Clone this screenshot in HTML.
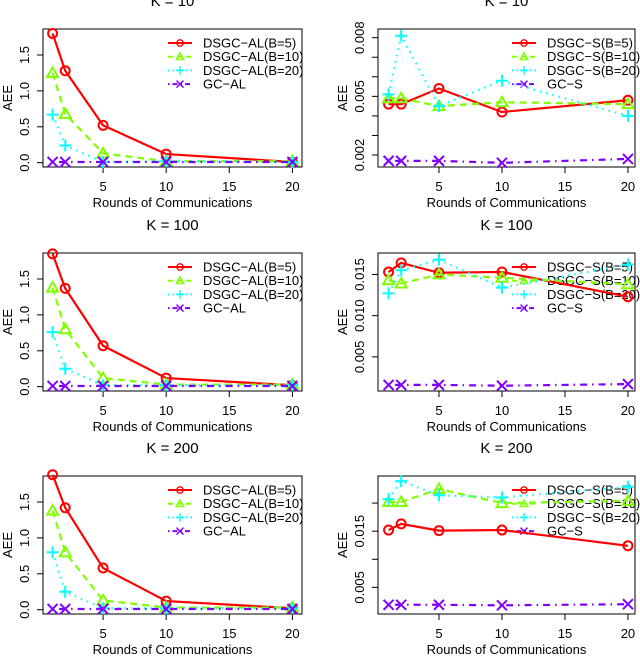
<!DOCTYPE html>
<html><head><meta charset="utf-8"><style>
html,body{margin:0;padding:0;background:#fff;}
svg{display:block;font-family:"Liberation Sans",sans-serif;}
</style></head><body>
<svg id="chart" width="640" height="656" viewBox="0 0 640 656" xmlns="http://www.w3.org/2000/svg"></svg>
<script>
const rounds = [1, 2, 5, 10, 20];
const xTicks = [5, 10, 15, 20];
const titles = ["K = 10", "K = 100", "K = 200"];

const alRed10 = [1.80, 1.28, 0.52, 0.12, 0.01];
const alGreen10 = [1.25, 0.68, 0.13, 0.02, 0.02];
const alCyan10 = [0.67, 0.24, 0.01, 0.02, 0.01];
const alPurple10 = [0.01, 0.01, 0.01, 0.01, 0.01];
const alRed100 = [1.85, 1.37, 0.57, 0.12, 0.02];
const alGreen100 = [1.38, 0.80, 0.12, 0.03, 0.03];
const alCyan100 = [0.76, 0.25, 0.02, 0.02, 0.02];
const alPurple100 = [0.01, 0.01, 0.01, 0.01, 0.01];
const alRed200 = [1.88, 1.42, 0.58, 0.12, 0.02];
const alGreen200 = [1.38, 0.80, 0.13, 0.03, 0.03];
const alCyan200 = [0.80, 0.25, 0.02, 0.02, 0.02];
const alPurple200 = [0.01, 0.01, 0.01, 0.01, 0.01];

const sRed10 = [0.0046, 0.0046, 0.0054, 0.0042, 0.0048];
const sGreen10 = [0.0049, 0.0049, 0.0045, 0.0047, 0.0046];
const sCyan10 = [0.0051, 0.0081, 0.0045, 0.0058, 0.0040];
const sPurple10 = [0.0017, 0.0017, 0.0017, 0.0016, 0.0018];
const sRed100 = [0.0153, 0.0164, 0.0152, 0.0153, 0.0123];
const sGreen100 = [0.0143, 0.0139, 0.0150, 0.0146, 0.0138];
const sCyan100 = [0.0127, 0.0155, 0.0168, 0.0134, 0.0162];
const sPurple100 = [0.0016, 0.0016, 0.0016, 0.0015, 0.0017];
const sRed200 = [0.0152, 0.0163, 0.0151, 0.0152, 0.0124];
const sGreen200 = [0.0202, 0.0202, 0.0225, 0.0200, 0.0204];
const sCyan200 = [0.0207, 0.0239, 0.0214, 0.0210, 0.0229];
const sPurple200 = [0.0019, 0.0019, 0.0019, 0.0018, 0.0020];

const alTicks = [0.0, 0.5, 1.0, 1.5];
const alTickLabels = ["0.0", "0.5", "1.0", "1.5"];
const s10Ticks = [0.002, 0.003, 0.004, 0.005, 0.006, 0.007, 0.008];
const s10TickLabels = ["0.002", "", "", "0.005", "", "", "0.008"];
const s100Ticks = [0.005, 0.010, 0.015];
const s100TickLabels = ["0.005", "0.010", "0.015"];
const s200Ticks = [0.005, 0.010, 0.015, 0.020];
const s200TickLabels = ["0.005", "", "0.015", ""];

const alLegend = ["DSGC\u2212AL(B=5)", "DSGC\u2212AL(B=10)", "DSGC\u2212AL(B=20)", "GC\u2212AL"];
const sLegend = ["DSGC\u2212S(B=5)", "DSGC\u2212S(B=10)", "DSGC\u2212S(B=20)", "GC\u2212S"];

const NS = "http://www.w3.org/2000/svg";
const svg = document.getElementById("chart");
const COLORS = ["#ff0000", "#80ff00", "#00ffff", "#8000ff"];
const DASH = ["", "7,5", "1.5,5", "1.5,5,7,5"];
const SYM = ["circle", "triangle", "plus", "cross"];
const FS = 13;

function mk(tag, attrs, parent) {
  const e = document.createElementNS(NS, tag);
  for (const k in attrs) e.setAttribute(k, attrs[k]);
  (parent || svg).appendChild(e);
  return e;
}
function txt(s, attrs, parent) {
  const t = mk("text", attrs, parent);
  t.textContent = s;
  return t;
}
function marker(g, sym, x, y, c) {
  let e;
  if (sym === "circle") e = mk("circle", {cx: x, cy: y, r: 4.5, fill: "none", stroke: c, "stroke-width": 2}, g);
  else if (sym === "triangle") e = mk("path", {d: `M${x},${y-5.5}L${x+5.5},${y+4}L${x-5.5},${y+4}Z`, fill: "none", stroke: c, "stroke-width": 2}, g);
  else if (sym === "plus") e = mk("path", {d: `M${x-6},${y}H${x+6}M${x},${y-6}V${y+6}`, stroke: c, "stroke-width": 2}, g);
  else e = mk("path", {d: `M${x-5},${y-5}L${x+5},${y+5}M${x+5},${y-5}L${x-5},${y+5}`, stroke: c, "stroke-width": 2}, g);
  return e;
}

function panel(p) {
  const g = mk("g", {});
  
  
  const xs = v => p.L + (v - p.xd[0]) / (p.xd[1] - p.xd[0]) * (p.R - p.L);
  const ys = v => p.B - (v - p.yd[0]) / (p.yd[1] - p.yd[0]) * (p.B - p.T);
  const cx = (p.L + p.R) / 2;
  const title = txt(p.title, {x: cx, y: p.T - 23, "text-anchor": "middle", "font-size": 15}, g);
  
  
  const box = mk("rect", {x: p.L, y: p.T, width: p.R - p.L, height: p.B - p.T, fill: "none", stroke: "#000", "stroke-width": 1}, g);
  
  
  const xa = mk("g", {}, g);
  
  
  mk("line", {x1: xs(xTicks[0]), x2: xs(xTicks[xTicks.length - 1]), y1: p.B, y2: p.B, stroke: "#000"}, xa);
  xTicks.forEach(v => {
    mk("line", {x1: xs(v), x2: xs(v), y1: p.B, y2: p.B + 6, stroke: "#000"}, xa);
    const t = txt(String(v), {x: xs(v), y: p.B + 24, "text-anchor": "middle", "font-size": FS}, xa);
    
    
  });
  const xl = txt("Rounds of Communications", {x: cx, y: p.B + 40, "text-anchor": "middle", "font-size": FS}, g);
  
  
  const ya = mk("g", {}, g);
  
  
  mk("line", {x1: p.L, x2: p.L, y1: ys(p.yt[0]), y2: ys(p.yt[p.yt.length - 1]), stroke: "#000"}, ya);
  p.yt.forEach((v, i) => {
    const y = ys(v);
    mk("line", {x1: p.L - 6, x2: p.L, y1: y, y2: y, stroke: "#000"}, ya);
    if (p.yl[i]) {
      const t = txt(p.yl[i], {x: p.L - 14, y: y, "text-anchor": "middle", "font-size": FS, transform: `rotate(-90 ${p.L - 14} ${y})`}, ya);
      
      
    }
  });
  const yy = (p.T + p.B) / 2;
  const yt = txt("AEE", {x: p.L - 31, y: yy, "text-anchor": "middle", "font-size": FS, transform: `rotate(-90 ${p.L - 31} ${yy})`}, g);
  
  
  const lg = mk("g", {}, g);
  
  
  p.leg.forEach((s, i) => {
    const ly = p.T + 14 + i * 13.7;
    const lx = p.legX;
    const e = mk("g", {}, lg);
    
    
    mk("line", {x1: lx, x2: lx + 24, y1: ly, y2: ly, stroke: COLORS[i], "stroke-width": 2, "stroke-dasharray": i === 0 ? "" : (i === 1 ? "5,4" : (i === 2 ? "1.5,3" : "1.5,3,5,3"))}, e);
    const m = marker(e, SYM[i], lx + 12, ly, COLORS[i]);
    m.setAttribute("transform", `translate(${lx + 12} ${ly}) scale(0.7) translate(${-(lx + 12)} ${-ly})`);
    txt(s, {x: lx + 35, y: ly + 4.5, "font-size": FS}, e);
  });
  p.series.forEach((vals, i) => {
    const sg = mk("g", {}, g);
    
    
    const pts = vals.map((v, j) => xs(rounds[j]) + "," + ys(v)).join(" ");
    mk("polyline", {points: pts, fill: "none", stroke: COLORS[i], "stroke-width": 2.2, "stroke-dasharray": DASH[i]}, sg);
    vals.forEach((v, j) => {
      const m = marker(sg, SYM[i], xs(rounds[j]), ys(v), COLORS[i]);
      
      
    });
  });
}

const offs = [0, 224, 447];
const alSeries = [[alRed10, alGreen10, alCyan10, alPurple10], [alRed100, alGreen100, alCyan100, alPurple100], [alRed200, alGreen200, alCyan200, alPurple200]];
const sSeries = [[sRed10, sGreen10, sCyan10, sPurple10], [sRed100, sGreen100, sCyan100, sPurple100], [sRed200, sGreen200, sCyan200, sPurple200]];
const sDomains = [[0.001386, 0.008445], [0.00086, 0.0176], [0.00026, 0.02482]];
const sTicks = [s10Ticks, s100Ticks, s200Ticks];
const sTickLabels = [s10TickLabels, s100TickLabels, s200TickLabels];

for (let r = 0; r < 3; r++) {
  const o = offs[r];
  panel({name: "panel-al-k" + [10, 100, 200][r], title: titles[r], L: 43, R: 302, T: 29 + o, B: 167 + o,
    xd: [0.24, 20.76], yd: [-0.06, 1.862], yt: alTicks, yl: alTickLabels, leg: alLegend, legX: 168, series: alSeries[r]});
  panel({name: "panel-s-k" + [10, 100, 200][r], title: titles[r], L: 378, R: 635, T: 29 + o, B: 167 + o,
    xd: [0.16, 20.56], yd: sDomains[r], yt: sTicks[r], yl: sTickLabels[r], leg: sLegend, legX: 512, series: sSeries[r]});
}
</script>
</body></html>
